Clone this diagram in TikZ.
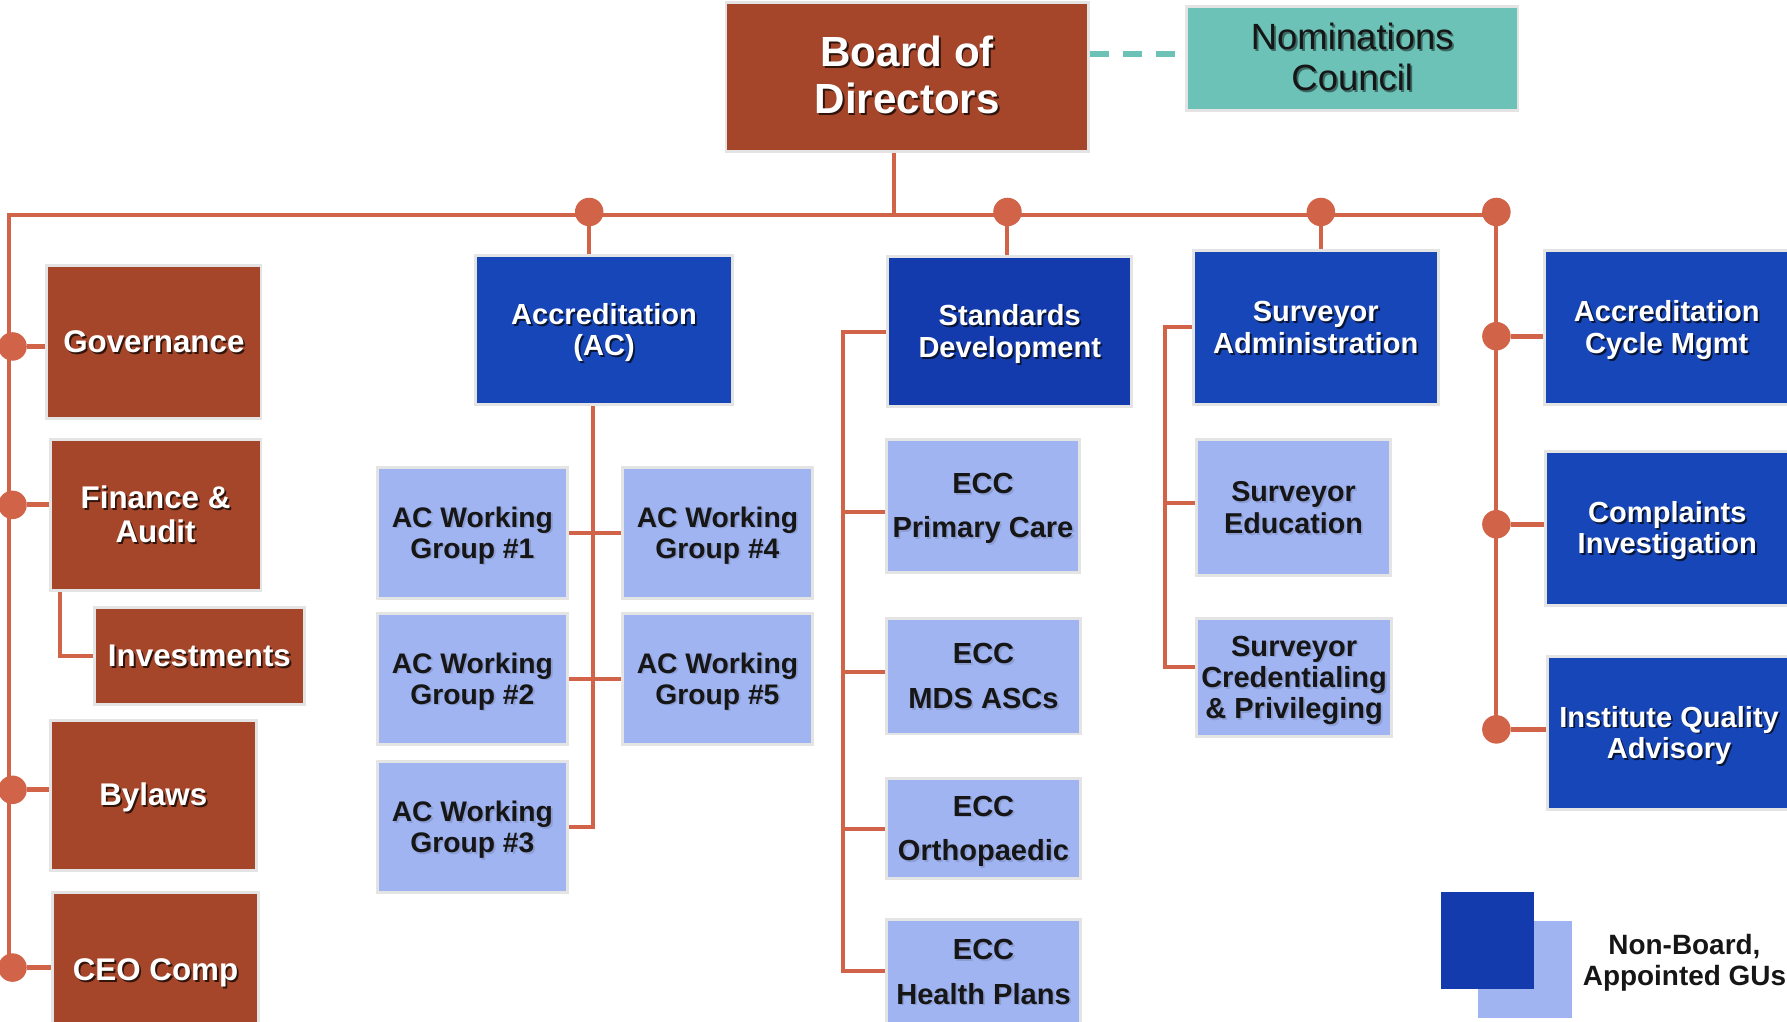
\documentclass[tikz,border=0pt]{standalone}
\usepackage{fontspec}
\setmainfont{Liberation Sans}
\usetikzlibrary{calc}

\definecolor{rust}{HTML}{A5462A}
\definecolor{wirec}{HTML}{D16448}
\definecolor{blueA}{HTML}{1646B8}
\definecolor{blueB}{HTML}{143BAE}
\definecolor{lblue}{HTML}{A0B4F2}
\definecolor{teal}{HTML}{6CC2B6}
\definecolor{edge}{HTML}{E4E4E4}
\definecolor{ink}{HTML}{161616}
\colorlet{shc}{black}
\newcommand\tdrop{4pt}

% text with a soft drop shadow behind it, set a little below the box centre
\newcommand\shtxt[1]{\raisebox{-\tdrop}[\height][\depth]{\makebox[0pt][l]{\kern1.6pt\raisebox{-1.6pt}{\color{shc}\begin{tabular}{@{}c@{}}#1\end{tabular}}}\begin{tabular}{@{}c@{}}#1\end{tabular}}}

% box given by its corners: name, x1, y1, x2, y2, style, text
\newcommand\unitbox[7]{\node[#6, minimum width={(#4-#2)*1pt}, minimum height={(#5-#3)*1pt}] (#1) at ({(#2+#4)/2},{(#3+#5)/2}) {#7};}

\begin{document}
\begin{tikzpicture}[x=1pt,y=-1pt,
  box/.style={rectangle, draw=edge, line width=2.5pt, inner sep=0pt, text=white},
  rustbox/.style={box, fill=rust, font=\bfseries\fontsize{27.5}{30}\selectfont,
    execute at begin node={\colorlet{shc}{black!70!rust}}},
  bluebox/.style={box, fill=blueA, font=\bfseries\fontsize{25.5}{27.5}\selectfont,
    execute at begin node={\colorlet{shc}{black!70!blueA}}},
  bluebox2/.style={bluebox, fill=blueB},
  tealbox/.style={box, fill=teal, text=ink, font=\fontsize{32}{36}\selectfont,
    execute at begin node={\colorlet{shc}{black!45!teal}\renewcommand\tdrop{3.5pt}}},
  lightbox/.style={box, fill=lblue, text=ink, font=\bfseries\fontsize{24.8}{27.2}\selectfont,
    execute at begin node={\colorlet{shc}{black!12!lblue}}},
  eccbox/.style={lightbox, font=\bfseries\fontsize{25.5}{39}\selectfont,
    execute at begin node={\renewcommand\tdrop{1.5pt}}},
  wire/.style={draw=wirec, line width=3.5pt, line join=miter},
  stub/.style={draw=wirec, line width=4.5pt},
  dot/.style={circle, fill=wirec, minimum size=25pt, inner sep=0pt},
  legtext/.style={text=ink, align=center, font=\bfseries\fontsize{24.5}{27}\selectfont}
]
\useasboundingbox (0,0) rectangle (1568,896);

% ---- top level ----
\unitbox{board}{637}{2}{955}{133}{rustbox, font=\bfseries\fontsize{37}{41}\selectfont}{\shtxt{Board of\\Directors}}
\unitbox{nom}{1041}{6}{1332}{97}{tealbox}{\shtxt{Nominations\\Council}}

% ---- board committees ----
\unitbox{gov}{41}{233}{229}{367}{rustbox}{\shtxt{Governance}}
\unitbox{fin}{44}{386}{229}{518}{rustbox}{\shtxt{Finance \&\\Audit}}
\unitbox{inv}{83}{533}{267}{618}{rustbox}{\shtxt{Investments}}
\unitbox{byl}{44}{632}{225}{764}{rustbox}{\shtxt{Bylaws}}
\unitbox{ceo}{46}{783}{227}{919}{rustbox}{\shtxt{CEO Comp}}

% ---- accreditation ----
\unitbox{ac}{417}{224}{643}{355}{bluebox}{\shtxt{Accreditation\\(AC)}}
\unitbox{wg1}{331}{410}{498}{525}{lightbox}{\shtxt{AC Working\\Group \#1}}
\unitbox{wg2}{331}{538}{498}{653}{lightbox}{\shtxt{AC Working\\Group \#2}}
\unitbox{wg3}{331}{668}{498}{783}{lightbox}{\shtxt{AC Working\\Group \#3}}
\unitbox{wg4}{546}{410}{713}{525}{lightbox}{\shtxt{AC Working\\Group \#4}}
\unitbox{wg5}{546}{538}{713}{653}{lightbox}{\shtxt{AC Working\\Group \#5}}

% ---- standards ----
\unitbox{std}{779}{225}{993}{357}{bluebox2}{\shtxt{Standards\\Development}}
\unitbox{ecc1}{778}{386}{947}{502}{eccbox}{\shtxt{ECC\\Primary Care}}
\unitbox{ecc2}{778}{543}{948}{644}{eccbox}{\shtxt{ECC\\MDS ASCs}}
\unitbox{ecc3}{778}{683}{948}{771}{eccbox}{\shtxt{ECC\\Orthopaedic}}
\unitbox{ecc4}{778}{807}{948}{899}{eccbox}{\shtxt{ECC\\Health Plans}}

% ---- surveyors ----
\unitbox{sa}{1047}{220}{1262}{355}{bluebox}{\shtxt{Surveyor\\Administration}}
\unitbox{se}{1050}{386}{1220}{505}{lightbox, font=\bfseries\fontsize{25.2}{27.5}\selectfont}{\shtxt{Surveyor\\Education}}
\unitbox{sc}{1050}{543}{1221}{646}{lightbox, font=\bfseries\fontsize{25.5}{27.5}\selectfont}{\shtxt{Surveyor\\Credentialing\\\& Privileging}}

% ---- right column ----
\unitbox{acm}{1355}{220}{1570}{355}{bluebox}{\shtxt{Accreditation\\Cycle Mgmt}}
\unitbox{ci}{1356}{396}{1570}{531}{bluebox}{\shtxt{Complaints\\Investigation}}
\unitbox{iqa}{1358}{576}{1571}{710}{bluebox}{\shtxt{Institute Quality\\Advisory}}

% ---- connectors ----
\coordinate (busL) at (8,189);
\coordinate (busR) at (1313,189);
\coordinate (bdrop) at (784,189);
\coordinate (acv) at (520,0);
\coordinate (sdv) at (740,0);
\coordinate (sav) at (1022,0);

\draw[wire] (bdrop |- board.south) -- (bdrop);
\draw[wire] (busR) -- (busL) -- (busL |- 0,849);
\draw[wire] (busR) -- (busR |- 0,640);

\draw[line width=5pt, dash pattern=on 17pt off 12pt, draw=teal]
  ([yshift=4pt]board.east |- nom.west) -- ([yshift=4pt]nom.west);

% bus junctions
\node[dot] (dac)  at (517,186) {};
\node[dot] (dstd) at (884,186) {};
\node[dot] (dsa)  at (1159,186) {};
\node[dot] (dr)   at (1313,186) {};
\draw[wire] (dac) -- (dac |- ac.north);
\draw[wire] (dstd) -- (dstd |- std.north);
\draw[wire] (dsa) -- (dsa |- sa.north);

% committees on the left rail
\foreach \b/\d/\y in {gov/dgov/304, fin/dfin/443, byl/dbyl/693, ceo/dceo/849}{
  \node[dot] (\d) at (11,\y) {};
  \draw[stub] (\d) -- (\d -| \b.west);
}
\draw[wire] ([xshift=10pt]fin.south west) |- (inv.west);

% right rail
\foreach \b/\d/\y in {acm/dacm/295, ci/dci/460, iqa/diqa/640}{
  \node[dot] (\d) at (1313,\y) {};
  \draw[stub] (\d) -- (\d -| \b.west);
}

% working groups
\draw[wire] (ac.south -| acv) -- (acv |- wg3.east) -- (wg3.east);
\draw[wire] (wg1.east) -- (wg4.west);
\draw[wire] (wg2.east) -- (wg5.west);

% standards bracket
\draw[wire] (std.west) -- (std.west -| sdv) -- (sdv |- 0,852) -- (ecc4.west |- 0,852);
\foreach \n/\y in {ecc1/449, ecc2/590, ecc3/727} \draw[wire] (sdv |- 0,\y) -- (\n.west |- 0,\y);

% surveyor bracket
\draw[wire] (sa.west |- 0,287) -- (sav |- 0,287) -- (sav |- 0,585) -- (sc.west |- 0,585);
\draw[wire] (sav |- 0,441) -- (se.west |- 0,441);

% ---- legend ----
\node[fill=lblue, minimum width=82pt, minimum height=85pt, inner sep=0pt] (legL) at (1338,850.5) {};
\node[fill=blueB, minimum width=82pt, minimum height=85pt, inner sep=0pt] (legD) at (1305,825.5) {};
\node[legtext] (legT) at (1478,845) {Non-Board,\\Appointed GUs};
\end{tikzpicture}
\end{document}
